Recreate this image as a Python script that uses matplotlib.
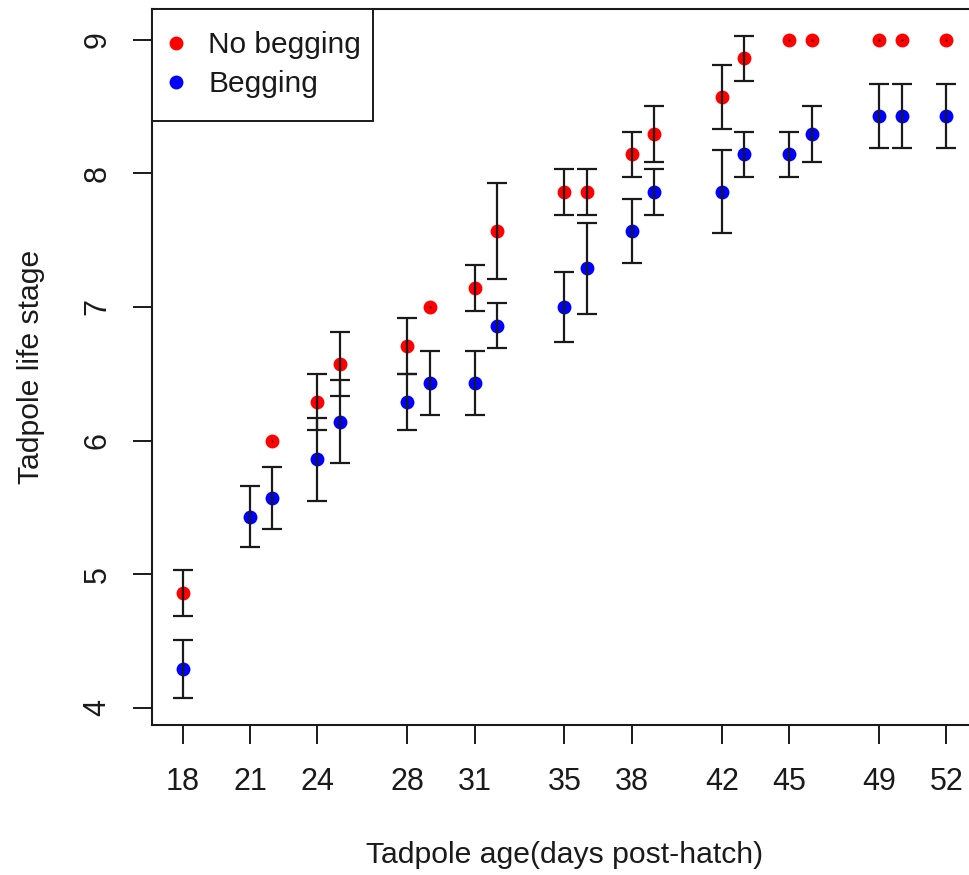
import numpy as np
import matplotlib.pyplot as plt

# tadpole life stage by age, mean +/- se
days_nb = [18, 22, 24, 25, 28, 29, 31, 32, 35, 36, 38, 39, 42, 43, 45, 46, 49, 50, 52]
stage_nb = [4.86, 6.0, 6.29, 6.57, 6.71, 7.0, 7.14, 7.57, 7.86, 7.86,
            8.14, 8.29, 8.57, 8.86, 9.0, 9.0, 9.0, 9.0, 9.0]
se_nb = [0.17, 0, 0.21, 0.24, 0.21, 0, 0.17, 0.36, 0.17, 0.17,
         0.17, 0.21, 0.24, 0.17, 0, 0, 0, 0, 0]

days_b = [18, 21, 22, 24, 25, 28, 29, 31, 32, 35, 36, 38, 39, 42, 43, 45, 46, 49, 50, 52]
stage_b = [4.29, 5.43, 5.57, 5.86, 6.14, 6.29, 6.43, 6.43, 6.86, 7.0,
           7.29, 7.57, 7.86, 7.86, 8.14, 8.14, 8.29, 8.43, 8.43, 8.43]
se_b = [0.22, 0.23, 0.23, 0.31, 0.31, 0.21, 0.24, 0.24, 0.17, 0.26,
        0.34, 0.24, 0.17, 0.31, 0.17, 0.17, 0.21, 0.24, 0.24, 0.24]

xticks = [18, 21, 24, 28, 31, 35, 38, 42, 45, 49, 52]
yticks = [4, 5, 6, 7, 8, 9]

plt.rcParams['font.family'] = ['Liberation Sans', 'DejaVu Sans']
ink = '#1a1a1a'

fig = plt.figure(figsize=(9.7, 8.75), dpi=100)
ax = fig.add_axes([152/970, 150/875, 825/970, 716/875])

ax.plot(days_nb, stage_nb, 'o', color='#ff0000', ms=10, mec='none', label='No begging', zorder=2)
ax.plot(days_b, stage_b, 'o', color='#0000ff', ms=10, mec='none', label='Begging', zorder=2)

# zero-length arrows in R leave a tiny dot
zero = [i for i, s in enumerate(se_nb) if s == 0]
ax.plot(np.array(days_nb)[zero], np.array(stage_nb)[zero], 's', color='black', ms=1.2, mec='none', zorder=3)

nz = [i for i, s in enumerate(se_nb) if s > 0]
ax.errorbar(np.array(days_nb)[nz], np.array(stage_nb)[nz], yerr=np.array(se_nb)[nz],
            fmt='none', ecolor=ink, elinewidth=1.6, capsize=7.5, capthick=1.6, zorder=4)
ax.errorbar(days_b, stage_b, yerr=se_b,
            fmt='none', ecolor=ink, elinewidth=1.6, capsize=7.5, capthick=1.6, zorder=4)

lo = min(np.min(np.array(stage_nb) - np.array(se_nb)), np.min(np.array(stage_b) - np.array(se_b)))
hi = max(np.max(np.array(stage_nb) + np.array(se_nb)), np.max(np.array(stage_b) + np.array(se_b)))
pad = (hi - lo) * 0.04
ax.set_ylim(lo - pad, hi + pad)
xpad = (max(xticks) - min(xticks)) * 0.04
ax.set_xlim(min(xticks) - xpad, max(xticks) + xpad)

ax.set_xticks(xticks)
ax.set_yticks(yticks)
ax.tick_params(axis='both', direction='out', length=13.5, width=1.4, color=ink,
               labelsize=22, labelcolor=ink)
ax.tick_params(axis='x', pad=17)
ax.tick_params(axis='y', pad=15)
for lab in ax.get_yticklabels():
    lab.set_rotation(90)
    lab.set_va('center')

for sp in ax.spines.values():
    sp.set_linewidth(1.5)
    sp.set_color(ink)
ax.spines['right'].set_visible(False)

ax.set_xlabel('Tadpole age(days post-hatch)', fontsize=21.7, color=ink)
ax.xaxis.set_label_coords(0.5, -0.1816)
ax.xaxis.label.set_va('center')
ax.set_ylabel('Tadpole life stage', fontsize=21.7, color=ink)
ax.yaxis.set_label_coords(-0.147, 0.5)
ax.yaxis.label.set_va('center')

leg = ax.legend(loc='upper left', bbox_to_anchor=(0, 1, 221/825, 0), mode='expand',
                borderaxespad=0, fontsize=21.5, fancybox=False,
                edgecolor=ink, framealpha=1, borderpad=0.75, handlelength=0.13,
                handletextpad=1.0, labelspacing=0.36, numpoints=1)
leg.get_frame().set_linewidth(1.4)
for t in leg.get_texts():
    t.set_color(ink)

fig.savefig('out.png', dpi=100)
